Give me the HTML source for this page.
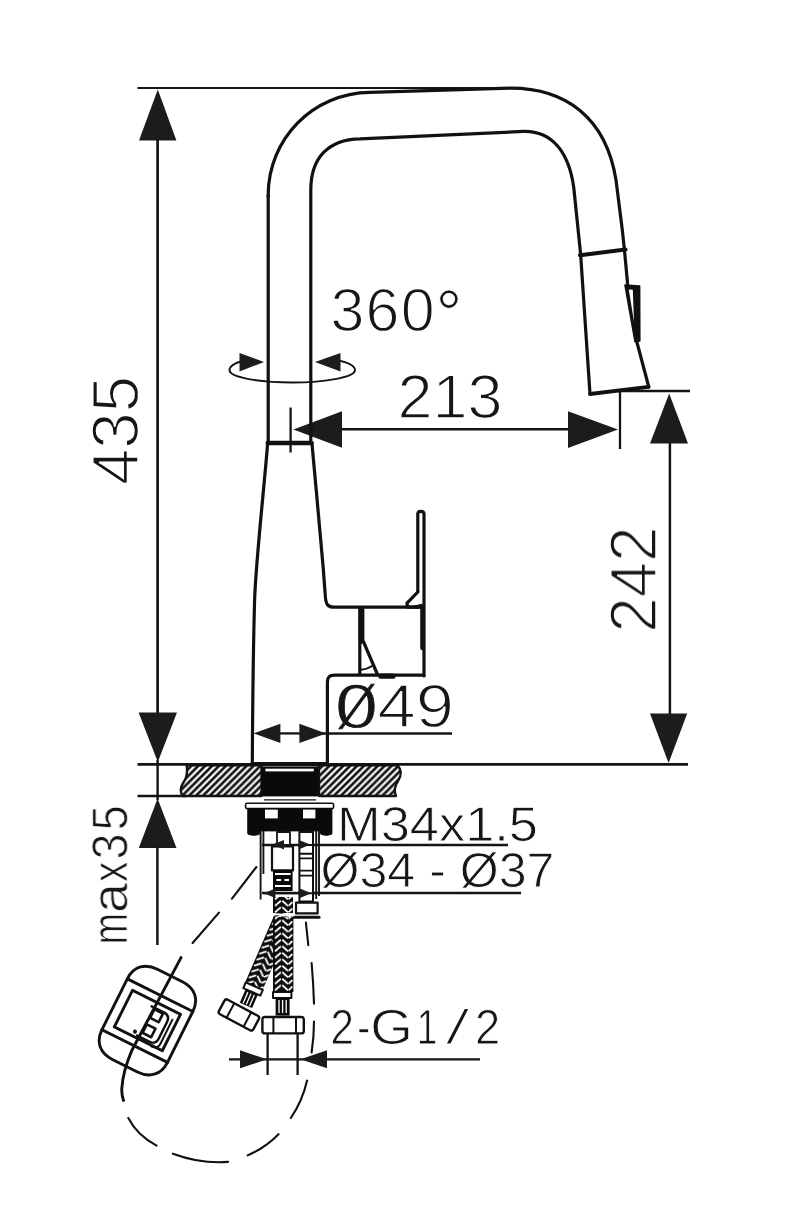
<!DOCTYPE html>
<html>
<head>
<meta charset="utf-8">
<title>Faucet dimension drawing</title>
<style>
html,body{margin:0;padding:0;background:#fff;}
body{width:800px;height:1221px;overflow:hidden;font-family:"Liberation Sans",sans-serif;}
svg{display:block;}
text{text-rendering:geometricPrecision;font-family:"Liberation Sans",sans-serif;fill:#161616;stroke:#fff;stroke-width:0.9px;paint-order:fill stroke;}
.o{fill:none;stroke:#111;stroke-width:3.2;stroke-linecap:round;stroke-linejoin:round;}
.t{fill:none;stroke:#111;stroke-width:3.6;stroke-linecap:round;stroke-linejoin:round;}
.d{fill:none;stroke:#141414;stroke-width:2.3;}
.n{fill:none;stroke:#141414;stroke-width:1.9;}
.a{fill:#1c1c1a;stroke:none;}
.k{fill:#0a0a0a;stroke:none;}
.w{fill:#fff;stroke:#111;stroke-width:1.6;stroke-linejoin:round;}
.dash{fill:none;stroke:#111;stroke-width:2.1;stroke-linecap:round;}
</style>
</head>
<body>
<svg width="800" height="1221" viewBox="0 0 800 1221">
<defs>
<pattern id="hatch" patternUnits="userSpaceOnUse" width="6.9" height="6.9">
<rect width="6.9" height="6.9" fill="#fff"/>
<path d="M-2.85,1 L1,-2.85 M-1,6.05 L6.05,-1 M4.05,7.9 L7.9,4.05" stroke="#111" stroke-width="2.7" fill="none"/>
</pattern>
<pattern id="braid" patternUnits="userSpaceOnUse" x="273" y="900" width="20" height="6.5">
<rect width="20" height="6.5" fill="#0c0c0c"/>
<path d="M2.6,5.4 L7.4,1.2 M9.8,1.2 L14.4,5.4 M16.2,5.2 L18.8,2.6" stroke="#fff" stroke-width="1.8" stroke-linecap="round" fill="none"/>
</pattern>
<pattern id="braid2" patternUnits="userSpaceOnUse" x="-0.5" y="0" width="20" height="6.5">
<rect width="20" height="6.5" fill="#0c0c0c"/>
<path d="M2.6,5.4 L7.4,1.2 M9.8,1.2 L14.4,5.4 M16.2,5.2 L18.8,2.6" stroke="#fff" stroke-width="1.8" stroke-linecap="round" fill="none"/>
</pattern>
</defs>
<rect width="800" height="1221" fill="#fff"/>

<!-- SECTION: dimension lines -->
<g id="dims">
<!-- top line for 435 -->
<path class="n" style="stroke-width:2.1" d="M137.5,88 H505"/>
<!-- 435 vertical -->
<path class="d" style="stroke-width:2.7" d="M157.6,138 V715"/>
<path class="a" d="M157.8,89.6 L176.4,140.4 H139 Z"/>
<path class="a" d="M157.8,762 L177,712.5 H138.6 Z"/>
<!-- countertop ext lines -->
<path class="d" style="stroke-width:2.4" d="M157.6,760 V800"/>
<path class="d" style="stroke-width:2.6" d="M137.5,764.4 H688"/>
<path class="d" style="stroke-width:2.6" d="M137.5,796 H186"/>
<!-- max35 -->
<path class="a" d="M157.6,798.5 L176.5,848 H138.8 Z"/>
<path class="d" style="stroke-width:2.5" d="M157.4,846 V945"/>
<!-- 213 -->
<path class="d" style="stroke-width:2.4" d="M340,429.3 H570"/>
<path class="a" d="M293.4,429.4 L342,411.2 V447.8 Z"/>
<path class="a" d="M618,429.4 L568,411.2 V448 Z"/>
<path class="d" d="M290.6,407.5 V452.5"/>
<path class="d" d="M620,391 V449"/>
<path class="d" d="M618,391 H690"/>
<!-- 242 -->
<path class="d" style="stroke-width:2.5" d="M669.9,441 V715"/>
<path class="a" d="M669.2,393.5 L688,443.5 H650 Z"/>
<path class="a" d="M668.6,763 L687.2,713.4 H650 Z"/>
<!-- rotation symbol -->
<path class="d" style="stroke-width:2" d="M250,359 C236,362 229.5,366 229.5,370 C229.5,377 257,382.5 292,382.5 C327,382.5 355,377 355,370 C355,366 348,362 332,359"/>
<path class="a" d="M264,362 L239.5,353 V371.5 Z"/>
<path class="a" d="M315,362 L340.5,353 V371.5 Z"/>
<!-- dia49 -->
<path class="d" d="M320,733.5 H452"/>
<path class="d" d="M276,733.4 H302"/>
<path class="a" d="M253.6,733.4 L280.4,723.8 V743 Z"/>
<path class="a" d="M326.2,733.4 L299.4,723.8 V743 Z"/>
<!-- M34 underline -->
<path class="d" d="M262,845 H508"/>
<!-- d34-37 underline -->
<path class="d" d="M262,893 H521"/>
<!-- 2-G1/2 -->
<path class="d" d="M229,1059.3 H480"/>
<path class="d" d="M267.6,1032 V1075 M297.6,1032 V1075"/>
<path class="a" d="M267,1059.3 L240,1050.3 V1068.3 Z"/>
<path class="a" d="M300.5,1059.3 L327,1050.3 V1068.3 Z"/>
</g>

<!-- SECTION: faucet body -->
<g id="faucet">
<!-- spout outer -->
<path class="o" d="M268.2,442 V195 C268.2,139 313,93 370,92.4 L510,88.2 C566,88 606,118 616,180 L622.3,230 L624.4,249.5 L627.6,284 L636.6,341 L648.8,387"/>
<!-- spout inner -->
<path class="o" d="M310.8,442 V190 C310.8,158 328,139.5 360,138.8 L524,131.4 C552,131 569,152 573.8,188 L580.6,254 L590,394"/>
<!-- band -->
<path class="t" style="stroke-width:4" d="M580,255.2 L625.5,249.6"/>
<!-- spray bottom -->
<path class="t" style="stroke-width:3.8" d="M590,394 L648.6,386.8"/>
<!-- button -->
<path d="M625,285 L639.6,286 L639.8,341 L635,341.6 Z" fill="#111" stroke="#111" stroke-width="1.6" stroke-linejoin="round"/>
<path d="M628.8,289.6 L632.8,289.8 L634,322 Z" fill="#fff"/>
<!-- small tick marks on tube -->
<circle cx="268.2" cy="196" r="1.8" fill="#111"/>
<!-- body -->
<path class="t" style="stroke-width:4.6" d="M267.8,443 H311.6"/>
<path class="o" d="M267.6,444 C263,500 256,560 254.6,600 C253.2,650 252.6,710 252.3,763"/>
<path class="o" d="M312,444 C316,485 320,535 323.3,569 L325.4,597 C325.9,604.4 328,607.2 334,607.2 H419"/>
<!-- lever -->
<path class="o" d="M417.8,592 V514 C417.8,510.5 424,510.5 424,514 V676"/>
<path class="o" d="M417.8,592 L407,603.2 L407.5,607.2 H422"/>
<path d="M407,607.6 L422.5,603.4 V608 Z" fill="#111"/>
<path class="t" style="stroke-width:4.4" d="M422.4,608 V648"/>
<!-- cartridge -->
<path class="t" style="stroke-width:5.6" d="M361.6,610 V641"/>
<path class="o" d="M359.8,608 V674"/>
<path class="o" d="M363.6,642 L377.5,674.5"/>
<path class="o" style="stroke-width:1.8" d="M360,670 C365,669.5 369,668 372,666"/>
<!-- base of handle -->
<path class="o" d="M424,675.2 H335 C329,675.2 327.4,677.4 327.4,683 V763"/>
<path class="t" style="stroke-width:5.2" d="M381,676.2 H393"/>
</g>

<!-- SECTION: countertop + mounting -->
<g id="mount">
<path d="M251,764 H328.6" stroke="#111" stroke-width="3.8"/>
<!-- hatch left and right with wavy ends -->
<path d="M186.6,765.4 H261.5 V796 H182.8 C179.4,791.5 180.6,786.5 184,781.5 C187.4,776.5 187.4,770.5 186.6,765.4 Z" fill="url(#hatch)" stroke="#111" stroke-width="2.3" stroke-linejoin="round"/>
<path d="M319,765.4 H397.6 C401.8,770 401.8,775 398.2,780.5 C394.4,786.5 393.6,791 396,796 H319 Z" fill="url(#hatch)" stroke="#111" stroke-width="2.3" stroke-linejoin="round"/>
<!-- black threaded block -->
<rect class="k" x="261.5" y="766.4" width="56.6" height="30"/>
<rect x="265.4" y="768.7" width="48.4" height="2.7" fill="#fff"/>
<path class="n" style="stroke-width:1.2" d="M264,799.8 H316"/>
<!-- flange plate -->
<rect class="w" x="245.6" y="803.2" width="88" height="5.4" rx="1.5"/>
<!-- bolts -->
<path class="k" d="M247.2,808.6 H260.4 V833 C260.4,836.6 247.2,836.6 247.2,833 Z"/>
<path class="k" d="M320,808.6 H332.4 V833 C332.4,836.6 320,836.6 320,833 Z"/>
<!-- centre nut -->
<rect class="k" x="260" y="808.4" width="60.2" height="23"/>
<rect x="265" y="809.6" width="12.8" height="8.8" fill="#fff"/>
<rect x="303" y="809.6" width="12.4" height="8.8" fill="#fff"/>
<!-- thin sleeves -->
<path class="n" d="M260.6,831 V899.5 M263.4,831 V874 M316.2,831 V899 M319,831 V896"/>
<!-- left tube -->
<rect class="w" x="277" y="832" width="13" height="14" style="stroke-width:1.8"/>
<rect class="w" x="272" y="846.4" width="21" height="24" style="stroke-width:2.2"/>
<rect class="k" x="273" y="870" width="19.6" height="21"/>
<path d="M275,874 H290.6 M275,886 H290.6" stroke="#fff" stroke-width="2.2"/>
<path d="M276.4,880 H281 M284.4,880 H289" stroke="#fff" stroke-width="2"/>
<!-- right tube -->
<rect class="w" x="299.4" y="832" width="13.6" height="69.4" style="stroke-width:2"/>
<path d="M299.4,853.8 H313 M299.4,858.4 H313 M299.4,870.6 H313 M299.4,875.6 H313" stroke="#111" stroke-width="1.9"/>
<rect class="w" x="296" y="902.6" width="21.6" height="10.8" style="stroke-width:2.2"/>
<path class="t" style="stroke-width:3" d="M291.5,917.2 H319"/>
<!-- small arrows M34 -->
<path class="n" d="M262,845 H318"/>
<path class="a" d="M272.4,844.4 L284,840 V849.4 Z"/>
<path class="a" d="M310.4,844.4 L298.6,840 V849.4 Z"/>
<path class="n" d="M264,893.2 H316"/>
<path class="a" d="M263.8,893.2 L275.4,888.6 V898 Z"/>
<path class="a" d="M311.4,893.2 L299.8,888.6 V898 Z"/>
</g>

<!-- SECTION: hoses -->
<g id="hoses">
<!-- left hose (behind), rotated about its top-left corner -->
<g transform="translate(273 918) rotate(23.4)">
<rect x="0" y="-8" width="19" height="78.5" fill="url(#braid2)"/>
<rect class="w" x="0.6" y="70" width="18.6" height="6.2" style="stroke-width:2"/>
<rect class="k" x="3.2" y="76" width="13.4" height="15"/>
<path d="M6.4,78 V90 M9.9,78 V90 M13.4,78 V90" stroke="#fff" stroke-width="1.3"/>
</g>
<g transform="translate(238.9 1015) rotate(28)">
<rect class="w" x="-19.5" y="-8.2" width="39" height="16.4" rx="2.5" style="stroke-width:2.4"/>
<path d="M-9.6,-8.2 V8.2 M9.6,-8.2 V8.2" stroke="#111" stroke-width="2"/>
</g>
<!-- hose collar at top -->
<rect x="273" y="897" width="20" height="16" fill="url(#braid)"/>
<path d="M272,915 C279,912 287,918 294,915" stroke="#fff" stroke-width="2.2" fill="none"/>
<!-- right hose -->
<rect x="273" y="917" width="20.4" height="75" fill="url(#braid)"/>
<rect class="w" x="273" y="992" width="18.4" height="6" style="stroke-width:2"/>
<rect class="k" x="275.6" y="998" width="14" height="17.6"/>
<path d="M279,1000 V1013 M282.6,1000 V1013 M286.2,1000 V1013" stroke="#fff" stroke-width="1.3"/>
<rect class="w" x="262.4" y="1017" width="41.4" height="16.4" rx="2.5" style="stroke-width:2.4"/>
<path d="M273.4,1017 V1033.4 M296,1017 V1033.4" stroke="#111" stroke-width="2"/>
</g>

<!-- SECTION: weight box + dashed hose -->
<g id="box">
<!-- dashed hose from faucet to weight -->
<path class="dash" d="M256.4,867 L232,898.7 M219,912.6 L192.6,943"/>
<path class="dash" style="stroke-width:2.9" d="M181,957.6 L132.2,1049.7 C126,1064 122.5,1076 121.8,1088.7 C121.6,1093 122.3,1097 123.5,1100.5"/>
<path class="dash" d="M128.3,1118 C134,1129 144,1139 156.6,1145.6"/>
<path class="dash" d="M172.9,1153.7 C190,1160 209,1163.5 228.1,1161.9"/>
<path class="dash" d="M247.6,1155.4 C259,1150.5 270,1143 278.5,1134.2"/>
<path class="dash" d="M290.8,1118 C298.5,1107 304,1094 307.1,1080.6"/>
<path class="dash" d="M311.6,1052.5 C313.2,1042 314,1032 314,1021.6"/>
<path class="dash" d="M314,1003.7 C313.6,990 312.8,976 311.6,963"/>
<path class="dash" d="M308.3,945.2 L305.9,922.5"/>
<!-- weight box -->
<g transform="translate(147.4 1020.6) rotate(26.5)">
<path class="o" style="stroke-width:2.9" d="M-36.6,-28.4 V28.4 C-36.6,43 -27,50.4 -14,50.4 H14 C27,50.4 36.6,43 36.6,28.4 V-28.4 C36.6,-43 27,-50.4 14,-50.4 H-14 C-27,-50.4 -36.6,-43 -36.6,-28.4 Z"/>
<path class="o" style="stroke-width:2.9" d="M-36.6,-28.4 H36.6 M-36.6,28.4 H36.6"/>
<rect class="o" style="stroke-width:2.9" x="-26.8" y="-20.4" width="53.6" height="40.8"/>
<path class="o" style="stroke-width:2.5" d="M-2.5,-14.6 H11 C15.5,-14.6 18.2,-12 18.2,-7.5 V11 C18.2,15.5 15.5,18 11,18 H-2.5"/>
<path class="o" style="stroke-width:2" d="M22,-12 V14 C22,19 19.5,21.4 15,21.4"/>
<rect class="o" style="stroke-width:2.6" x="1.2" y="-13.2" width="9.6" height="9.6"/>
<rect class="o" style="stroke-width:2.6" x="1.2" y="3.6" width="9.6" height="9.6"/>
<circle cx="-6.2" cy="15.4" r="2" fill="#111"/>
</g>
</g>

<!-- SECTION: labels -->
<g id="labels" style="filter:grayscale(1)">
<text transform="translate(138 485) rotate(-90)" font-size="66" textLength="109" style="stroke-width:1.7px" lengthAdjust="spacingAndGlyphs">435</text>
<text x="330.4" y="331" font-size="61" letter-spacing="1.2" style="stroke-width:1.5px">360<tspan font-size="66" dx="0" dy="4.6" style="stroke-width:0.8px">°</tspan></text>
<text x="397.6" y="418.4" font-size="62" textLength="105" style="stroke-width:1.5px" lengthAdjust="spacingAndGlyphs">213</text>
<text transform="translate(656 632.6) rotate(-90)" font-size="66" textLength="106" style="stroke-width:1.7px" lengthAdjust="spacingAndGlyphs">242</text>
<text x="336.4" y="727.2" font-size="61" style="stroke-width:1.5px"><tspan font-family="Liberation Serif" font-size="63" textLength="40" lengthAdjust="spacingAndGlyphs" style="stroke:#161616;stroke-width:0.9px">Ø</tspan><tspan dx="1.2" textLength="76.5" lengthAdjust="spacingAndGlyphs">49</tspan></text>
<text transform="translate(127.2 945) rotate(-90)" font-size="50.5" x="0.6"><tspan textLength="31.5" lengthAdjust="spacingAndGlyphs">m</tspan><tspan textLength="30" lengthAdjust="spacingAndGlyphs">a</tspan><tspan dx="0.9" textLength="20.4" lengthAdjust="spacingAndGlyphs">x</tspan><tspan dx="2.1" textLength="26" lengthAdjust="spacingAndGlyphs">3</tspan><tspan dx="3.2" textLength="25" lengthAdjust="spacingAndGlyphs">5</tspan></text>
<text x="337" y="841" font-size="49" textLength="201" lengthAdjust="spacingAndGlyphs">M34x1.5</text>
<text x="320.5" y="886.6" font-size="49" textLength="234" lengthAdjust="spacingAndGlyphs">Ø34 - Ø37</text>
<text x="330.4" y="1044" font-size="49.5"><tspan textLength="23.4" lengthAdjust="spacingAndGlyphs">2</tspan><tspan dx="3.5" textLength="13" lengthAdjust="spacingAndGlyphs">-</tspan><tspan textLength="42.6" lengthAdjust="spacingAndGlyphs">G</tspan><tspan dx="3.8" textLength="20.6" lengthAdjust="spacingAndGlyphs">1</tspan><tspan dx="7.3" textLength="26" lengthAdjust="spacingAndGlyphs" style="stroke-width:1.9px">/</tspan><tspan dx="4.3" textLength="25.2" lengthAdjust="spacingAndGlyphs">2</tspan></text>
</g>
</svg>
</body>
</html>
